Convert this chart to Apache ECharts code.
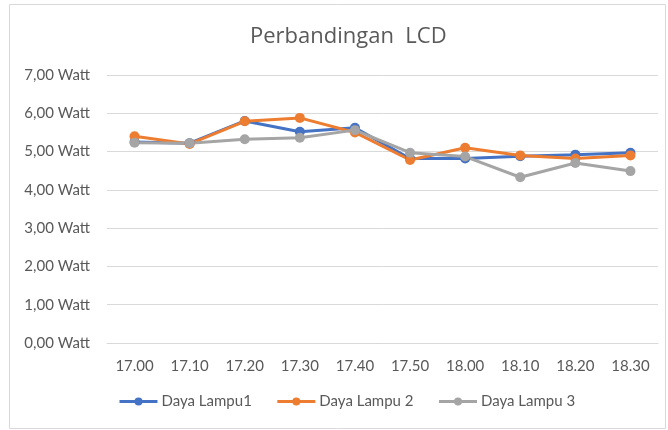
<!DOCTYPE html>
<html>
<head>
<meta charset="utf-8">
<script src="https://cdn.jsdelivr.net/npm/echarts@6/dist/echarts.min.js"></script>
<style>
  html, body { margin: 0; padding: 0; background: #fff; }
  #chart { width: 668px; height: 430px; }
</style>
</head>
<body>
<div id="chart"></div>
<script>
  var categories = ['17.00', '17.10', '17.20', '17.30', '17.40', '17.50', '18.00', '18.10', '18.20', '18.30'];
  var lampu1 = [5.25, 5.22, 5.80, 5.52, 5.62, 4.82, 4.82, 4.88, 4.92, 4.97];
  var lampu2 = [5.40, 5.20, 5.79, 5.88, 5.50, 4.78, 5.10, 4.90, 4.82, 4.90];
  var lampu3 = [5.23, 5.22, 5.32, 5.36, 5.56, 4.97, 4.87, 4.33, 4.70, 4.49];
  var seriesNames = ['Daya Lampu1', 'Daya Lampu 2', 'Daya Lampu 3'];

  var font = 'Lato, "Open Sans", sans-serif';

  function makeLine(name, data) {
    return {
      name: name,
      type: 'line',
      data: data,
      symbol: 'circle',
      symbolSize: 10,
      lineStyle: { width: 3 },
      emphasis: { disabled: true }
    };
  }

  var chart = echarts.init(document.getElementById('chart'));
  chart.setOption({
    animation: false,
    color: ['#4472C4', '#ED7D31', '#A5A5A5'],
    textStyle: { fontFamily: font },
    graphic: [{
      type: 'rect',
      shape: { x: 9.5, y: 4.5, width: 656, height: 424 },
      style: { fill: 'none', stroke: '#d9d9d9', lineWidth: 1 },
      silent: true
    }],
    title: {
      text: 'Perbandingan  LCD',
      left: 245,
      top: 21,
      textStyle: { fontFamily: '"Open Sans", sans-serif', fontSize: 22, fontWeight: 'normal', color: '#595959' }
    },
    legend: {
      data: seriesNames,
      bottom: 16,
      left: 113,
      itemWidth: 38,
      itemHeight: 10,
      itemGap: 24,
      lineStyle: { width: 3 },
      textStyle: { fontFamily: font, fontSize: 15, color: '#595959', padding: [0, 0, 0, -1] }
    },
    grid: { left: 107, right: 10, top: 75, bottom: 87 },
    xAxis: {
      type: 'category',
      data: categories,
      axisLine: { lineStyle: { color: '#d9d9d9', width: 1 } },
      axisTick: { show: false },
      axisLabel: { color: '#595959', fontSize: 15, margin: 16, fontFamily: font }
    },
    yAxis: {
      type: 'value',
      min: 0,
      max: 7,
      interval: 1,
      axisLine: { show: false },
      axisTick: { show: false },
      splitLine: { lineStyle: { color: '#d9d9d9', width: 1 } },
      axisLabel: {
        color: '#595959',
        fontSize: 15,
        margin: 17,
        fontFamily: font,
        formatter: function (v) { return v.toFixed(2).replace('.', ',') + ' Watt'; }
      }
    },
    series: [
      makeLine(seriesNames[0], lampu1),
      makeLine(seriesNames[1], lampu2),
      makeLine(seriesNames[2], lampu3)
    ]
  });
</script>
</body>
</html>
